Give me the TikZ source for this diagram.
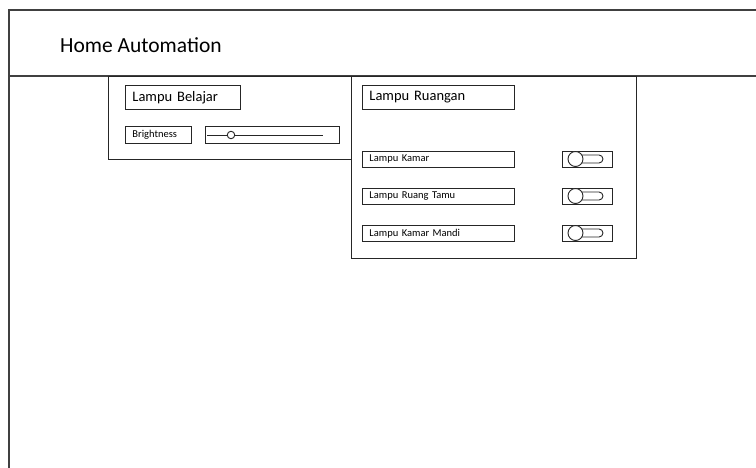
\documentclass[tikz,border=0pt]{standalone}
\usepackage{fontspec}
\setmainfont{Carlito}
\begin{document}
\begin{tikzpicture}[x=1pt,y=-1pt,
  frame/.style={draw=black!75,line width=1.3pt},
  panel/.style={draw=black!85,line width=1pt,anchor=north west,inner sep=0pt},
  fieldbox/.style={draw=black!85,line width=0.9pt,anchor=north west,inner xsep=7pt,inner ysep=0pt,align=left},
  bigtxt/.style={font=\fontsize{14.5}{16}\selectfont},
  smalltxt/.style={font=\fontsize{10.5}{12}\selectfont},
  tgl/.style={draw=black!85,line width=0.9pt,anchor=north west,inner sep=0pt,minimum width=50pt,minimum height=16pt},
  knob/.style={draw=black!85,line width=0.9pt,fill=white,circle,inner sep=0pt}
]
\useasboundingbox (0,0) rectangle (756,468);
% outer frame
\coordinate (fbl) at (9,470);
\coordinate (ftl) at (9,10);
\coordinate (ftr) at (758,10);
\coordinate (hl) at (9,76);
\coordinate (hr) at (758,76);
\draw[frame] (fbl) -- (ftl) -- (ftr);
\draw[frame] (hl) -- (hr);
\node[anchor=west,font=\fontsize{21.5}{25}\selectfont,inner sep=0pt] (title) at (60,45) {Home Automation};

% panels
\node[panel,minimum width=243pt,minimum height=83pt] (pbel) at (108,76) {};
\node[panel,minimum width=285pt,minimum height=182pt] (prua) at (351,76) {};

% Lampu Belajar panel
\node[fieldbox,bigtxt,text width=101pt,minimum height=24pt] (lbel) at (125,85) {Lampu Belajar};
\node[fieldbox,smalltxt,text width=52pt,minimum height=17pt] (bright) at (125,126) {Brightness};
\node[panel,line width=0.9pt,minimum width=134pt,minimum height=17pt] (slider) at (205,126) {};
\coordinate (sl1) at (207,135);
\coordinate (sl2) at (323,135);
\draw[line width=0.9pt,draw=black!85] (sl1) -- (sl2);
\node[knob,minimum size=7.5pt] (sknob) at (231,135) {};

% Lampu Ruangan panel
\node[fieldbox,bigtxt,text width=138pt,minimum height=24pt] (lrua) at (362,85) {Lampu Ruangan};
\node[fieldbox,smalltxt,text width=138pt,minimum height=16pt] (lk) at (362,151) {Lampu Kamar};
\node[fieldbox,smalltxt,text width=138pt,minimum height=16pt] (lrt) at (362,188) {Lampu Ruang Tamu};
\node[fieldbox,smalltxt,text width=138pt,minimum height=16pt] (lkm) at (362,225) {Lampu Kamar Mandi};

\foreach \n/\y in {t1/151,t2/188,t3/225}{
  \node[tgl] (\n) at (562,\y) {};
  \draw[line width=0.9pt,draw=black!85] (575,\y+4) -- (599,\y+4) arc[start angle=-90,end angle=90,radius=4] -- (575,\y+12);
  \node[knob,minimum size=15pt] (\n k) at (575.5,\y+8) {};
}
\end{tikzpicture}
\end{document}
